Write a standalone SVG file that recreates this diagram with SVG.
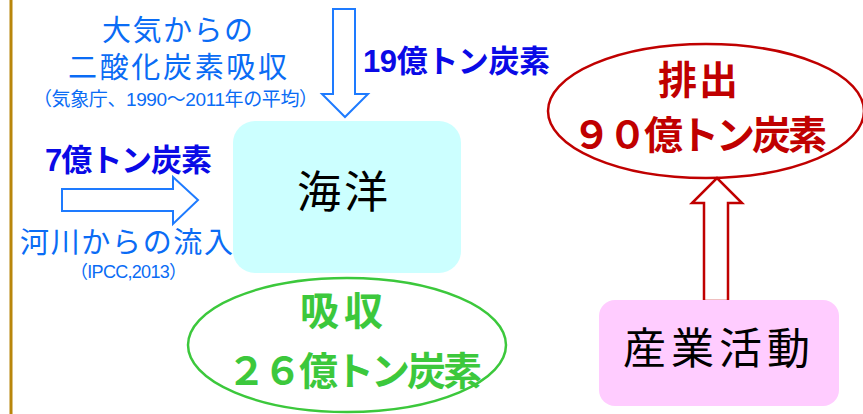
<svg xmlns="http://www.w3.org/2000/svg" width="863" height="414" viewBox="0 0 863 414">
<style>
text{font-family:"Liberation Sans","Noto Sans CJK JP",sans-serif;}
.lb{fill:#0A6CF5;}
.bb{fill:#0A0AE6;font-weight:bold;}
.gr{fill:#3CC83C;font-weight:bold;}
.rd{fill:#C00000;font-weight:bold;}
.blk{fill:#000;}
.barrow{fill:#fff;stroke:#1E7BFF;stroke-width:2;}
.rarrow{fill:#fff;stroke:#C00000;stroke-width:2.5;}
</style>
<rect width="863" height="414" fill="#fff"/>
<line x1="11" y1="0" x2="11" y2="414" stroke="#B8860B" stroke-width="3"/>
<g id="connectors">
<polygon class="barrow" points="333,9 355,9 355,94 368,94 345,117 322,94 333,94"/>
<polygon class="barrow" points="62,189 173,189 173,177 198,200 173,224 173,211 62,211"/>
<polygon class="rarrow" points="704,301 728,301 728,203 742,203 717,178 692,203 704,203"/>
</g>
<g id="atmosphere">
<text class="lb" x="102" y="41" font-size="29" textLength="151" lengthAdjust="spacing">大気からの</text>
<text class="lb" x="68" y="78" font-size="29" textLength="219" lengthAdjust="spacing">二酸化炭素吸収</text>
<text class="lb" x="33" y="106" font-size="19" textLength="285" lengthAdjust="spacing">（気象庁、1990～2011年の平均）</text>
<text class="bb" x="363" y="72" font-size="31" textLength="187" lengthAdjust="spacing">19億トン炭素</text>
</g>
<g id="river">
<text class="bb" x="45" y="171" font-size="31" textLength="167" lengthAdjust="spacing">7億トン炭素</text>
<text class="lb" x="20" y="253" font-size="29" textLength="213" lengthAdjust="spacing">河川からの流入</text>
<text class="lb" x="70" y="278" font-size="18" textLength="117" lengthAdjust="spacing">（IPCC,2013）</text>
</g>
<g id="ocean">
<rect x="233" y="121" width="228" height="152" rx="22" fill="#CCFFFF"/>
<text class="blk" x="297" y="208" font-size="44" textLength="91" lengthAdjust="spacing">海洋</text>
</g>
<g id="absorption">
<ellipse cx="347" cy="345" rx="159" ry="67" fill="none" stroke="#3CC83C" stroke-width="2.5"/>
<text class="gr" x="300" y="325" font-size="39" textLength="83" lengthAdjust="spacing">吸収</text>
<text class="gr" x="227" y="385" font-size="39" textLength="255" lengthAdjust="spacing">２６億トン炭素</text>
</g>
<g id="emission">
<ellipse cx="706" cy="111" rx="158" ry="67" fill="none" stroke="#C00000" stroke-width="2.5"/>
<text class="rd" x="658" y="94" font-size="39" textLength="80" lengthAdjust="spacing">排出</text>
<text class="rd" x="572" y="149" font-size="39" textLength="255" lengthAdjust="spacing">９０億トン炭素</text>
</g>
<g id="industry">
<rect x="599" y="300" width="240" height="106" rx="16" fill="#FFCCFF"/>
<text class="blk" x="623" y="364" font-size="43" textLength="187" lengthAdjust="spacing">産業活動</text>
</g>
</svg>
